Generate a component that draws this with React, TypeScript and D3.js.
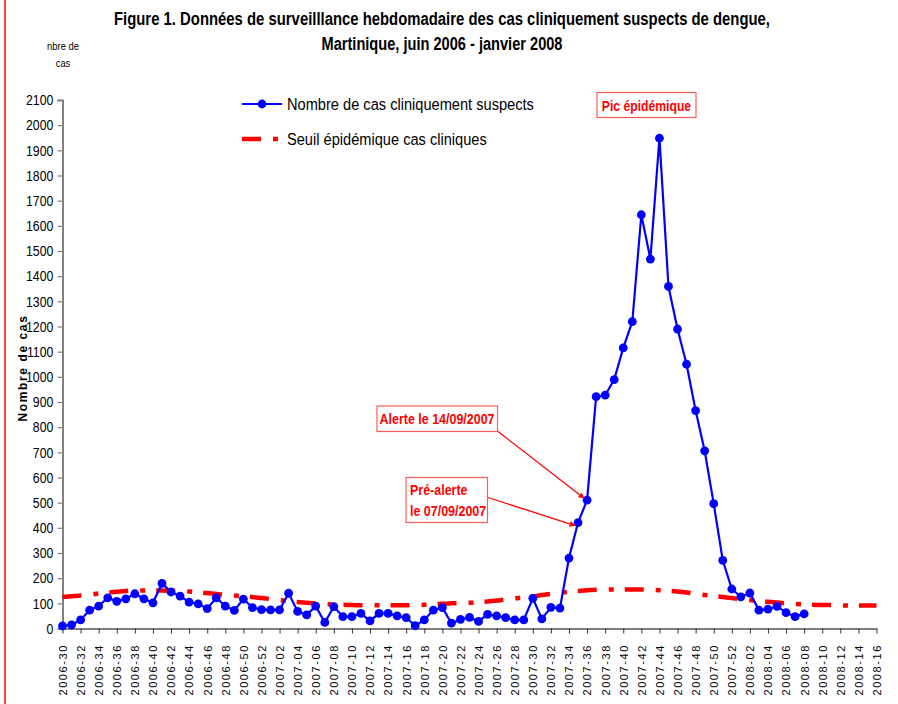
import React, { useEffect, useRef } from 'react';
import * as d3 from 'd3';

const W = 898;
const H = 704;

// semaines 2006-30 .. 2008-16
const years = [2006, 2007, 2008];
const firstWeek = [30, 1, 1];
const lastWeek = [52, 52, 16];
const weeks: string[] = [];
years.forEach((y, i) => {
  for (let w = firstWeek[i]; w <= lastWeek[i]; w++) weeks.push(`${y}-${String(w).padStart(2, '0')}`);
});

// Nombre de cas cliniquement suspects (2006-30 .. 2008-08)
const cases = [
  10, 14, 34, 73, 89, 122, 108, 118, 138, 118, 102, 179, 145, 129, 105, 98, 79, 122, 89, 72,
  117, 83, 75, 74, 74, 140, 68, 54, 89, 24, 87, 47, 47, 60, 30, 60, 60, 50, 43, 11,
  34, 73, 83, 21, 36, 44, 28, 56, 50, 43, 34, 34, 120, 38, 84, 81, 280, 421, 510, 921,
  927, 989, 1115, 1219, 1644, 1468, 1948, 1359, 1190, 1050, 866, 706, 496, 271, 157, 126, 141, 73, 77, 88,
  63, 47, 58,
];

// Seuil épidémique cas cliniques (2006-30 .. 2008-16)
const seuil = [
  125, 128, 131, 135, 139, 143, 146, 149, 151, 151, 151, 151, 150, 149, 147, 144, 141, 137, 134, 131,
  128, 125, 121, 117, 113, 109, 105, 102, 99, 97, 95, 94, 93, 92, 92, 92, 92, 92, 92, 93,
  94, 96, 98, 100, 101, 102, 104, 107, 111, 116, 120, 123, 127, 133, 138, 143, 146, 149, 152, 154,
  155, 155, 155, 155, 155, 154, 152, 150, 147, 143, 138, 133, 129, 125, 121, 117, 113, 110, 106, 103,
  100, 98, 96, 94, 93, 93, 92, 91, 91, 91, 91,
];

const yTicks = d3.range(0, 2101, 100);
const xTickLabels = weeks.filter((_, i) => i % 2 === 0);

const SANS = "'Liberation Sans', Arial, sans-serif";

type G = d3.Selection<SVGGElement, unknown, null, undefined>;

// condensed text (Arial Narrow look) by squeezing Liberation Sans horizontally
const narrowText = (g: G, x: number, y: number, str: string, sx = 0.82) =>
  g.append('text')
    .attr('transform', `translate(${x},${y}) scale(${sx},1)`)
    .text(str);

const App: React.FC = () => {
  const svgRef = useRef<SVGSVGElement>(null);

  useEffect(() => {
    if (!svgRef.current) return;
    document.body.style.margin = '0';
    const svg = d3.select(svgRef.current);
    svg.selectAll('*').remove();

    svg.append('rect').attr('width', W).attr('height', H).attr('fill', '#fff');

    // Red left border
    svg.append('line')
      .attr('x1', 5).attr('x2', 5).attr('y1', 0).attr('y2', H)
      .attr('stroke', '#ff0000').attr('stroke-width', 1.5);

    const defs = svg.append('defs');
    defs.append('marker')
      .attr('id', 'arrow')
      .attr('viewBox', '0 0 10 10')
      .attr('refX', 9).attr('refY', 5)
      .attr('markerWidth', 7).attr('markerHeight', 6)
      .attr('markerUnits', 'userSpaceOnUse')
      .attr('orient', 'auto')
      .append('path')
      .attr('d', 'M0,0 L10,5 L0,10 z')
      .attr('fill', '#ff0000');

    // Scales
    const xScale = d3.scalePoint<string>().domain(weeks).range([62.5, 876.5]);
    const yScale = d3.scaleLinear().domain([0, 2100]).range([628.5, 100]);

    // Title
    const title = svg.append('g')
      .attr('font-family', SANS)
      .attr('font-weight', 'bold')
      .attr('font-size', 17.5)
      .attr('text-anchor', 'middle')
      .attr('fill', '#000');
    title.append('text').attr('x', 442).attr('y', 25)
      .attr('textLength', 656).attr('lengthAdjust', 'spacingAndGlyphs')
      .text('Figure 1. Données de surveilllance hebdomadaire des cas cliniquement suspects de dengue,');
    title.append('text').attr('x', 442).attr('y', 50)
      .attr('textLength', 241).attr('lengthAdjust', 'spacingAndGlyphs')
      .text('Martinique, juin 2006 - janvier 2008');

    const unit = svg.append('g')
      .attr('font-family', SANS)
      .attr('font-size', 11.5)
      .attr('text-anchor', 'middle');
    narrowText(unit, 63, 50, 'nbre de', 0.82);
    narrowText(unit, 63, 67, 'cas', 0.82);

    // Y axis
    const yAxis = svg.append('g')
      .attr('transform', 'translate(62.5,0)')
      .call(d3.axisLeft(yScale).tickValues(yTicks).tickSize(5).tickPadding(4).tickFormat(d3.format('d')));
    yAxis.select('.domain').attr('stroke', '#808080').attr('stroke-width', 2);
    yAxis.selectAll('.tick line').attr('stroke', '#808080').attr('stroke-width', 1.2);
    yAxis.selectAll('.tick text')
      .attr('font-family', SANS)
      .attr('font-size', 15)
      .attr('x', -11.2)
      .attr('transform', 'scale(0.82,1)')
      .attr('fill', '#000');

    // Y axis title
    svg.append('text')
      .attr('transform', 'translate(27,368) rotate(-90)')
      .attr('text-anchor', 'middle')
      .attr('font-family', SANS)
      .attr('font-weight', 'bold')
      .attr('font-size', 12)
      .attr('letter-spacing', 1.6)
      .text('Nombre de cas');

    // X axis
    const xAxis = svg.append('g')
      .attr('transform', 'translate(0,628.5)')
      .call(d3.axisBottom(xScale).tickValues(xTickLabels).tickSize(5).tickSizeOuter(0).tickFormat(() => ''));
    xAxis.select('.domain').attr('stroke', '#000').attr('stroke-width', 1.2);
    xAxis.selectAll('.tick line').attr('stroke', '#333').attr('stroke-width', 1);

    svg.append('g')
      .selectAll('text')
      .data(xTickLabels)
      .join('text')
      .attr('transform', d => `translate(${xScale(d)! + 0.5},644) rotate(-90)`)
      .attr('text-anchor', 'end')
      .attr('dy', '0.35em')
      .attr('font-family', SANS)
      .attr('font-size', 11)
      .attr('letter-spacing', 1.6)
      .attr('fill', '#000')
      .text(d => d);

    // Seuil épidémique
    const seuilLine = d3.line<number>()
      .x((_, i) => xScale(weeks[i])!)
      .y(d => yScale(d))
      .curve(d3.curveMonotoneX);
    svg.append('path')
      .datum(seuil)
      .attr('fill', 'none')
      .attr('stroke', '#ff0000')
      .attr('stroke-width', 4.5)
      .attr('stroke-dasharray', '19,12,5,11')
      .attr('d', seuilLine);

    // Cas cliniquement suspects
    const casesLine = d3.line<number>()
      .x((_, i) => xScale(weeks[i])!)
      .y(d => yScale(d));
    svg.append('path')
      .datum(cases)
      .attr('fill', 'none')
      .attr('stroke', '#0000ff')
      .attr('stroke-width', 2.2)
      .attr('d', casesLine);
    svg.append('g')
      .selectAll('circle')
      .data(cases)
      .join('circle')
      .attr('cx', (_, i) => xScale(weeks[i])!)
      .attr('cy', d => yScale(d))
      .attr('r', 4.4)
      .attr('fill', '#0000ff');

    // Legend
    const legend = svg.append('g').attr('font-family', SANS).attr('font-size', 17);
    legend.append('line')
      .attr('x1', 242).attr('x2', 282).attr('y1', 104).attr('y2', 104)
      .attr('stroke', '#0000ff').attr('stroke-width', 2.2);
    legend.append('circle').attr('cx', 262).attr('cy', 104).attr('r', 4.4).attr('fill', '#0000ff');
    narrowText(legend, 287, 110, 'Nombre de cas cliniquement suspects', 0.86);
    legend.append('line')
      .attr('x1', 242).attr('x2', 282).attr('y1', 139).attr('y2', 139)
      .attr('stroke', '#ff0000').attr('stroke-width', 4.5)
      .attr('stroke-dasharray', '19,12,5,11');
    narrowText(legend, 287, 145, 'Seuil épidémique cas cliniques', 0.86);

    // Annotations
    const ann = svg.append('g')
      .attr('font-family', SANS)
      .attr('font-weight', 'bold')
      .attr('font-size', 14.5)
      .attr('fill', '#ff0000');

    const box = (x: number, y: number, w: number, h: number) =>
      ann.append('rect')
        .attr('x', x).attr('y', y).attr('width', w).attr('height', h)
        .attr('fill', '#fff').attr('stroke', '#ff5a5a').attr('stroke-width', 1.2);

    box(597, 92.5, 99, 25);
    narrowText(ann, 646.5, 110.5, 'Pic épidémique', 0.84).attr('text-anchor', 'middle');

    const alertIdx = 58;
    const preIdx = 57;
    ann.append('line')
      .attr('x1', 498).attr('y1', 431.5)
      .attr('x2', xScale(weeks[alertIdx])! - 3).attr('y2', yScale(cases[alertIdx]) - 2)
      .attr('stroke', '#ff0000').attr('stroke-width', 1.3)
      .attr('marker-end', 'url(#arrow)');
    ann.append('line')
      .attr('x1', 488).attr('y1', 497.5)
      .attr('x2', xScale(weeks[preIdx])! - 3).attr('y2', yScale(cases[preIdx]) + 3)
      .attr('stroke', '#ff0000').attr('stroke-width', 1.3)
      .attr('marker-end', 'url(#arrow)');

    box(377, 406, 120.5, 25.5);
    narrowText(ann, 437, 424, 'Alerte le 14/09/2007', 0.86).attr('text-anchor', 'middle');

    box(406, 477.5, 81.5, 45);
    narrowText(ann, 410, 494.5, 'Pré-alerte', 0.86);
    narrowText(ann, 410, 515.5, 'le 07/09/2007', 0.86);
  }, []);

  return (
    <div>
      <svg ref={svgRef} width={W} height={H} style={{ display: 'block' }} />
    </div>
  );
};

export default App;
